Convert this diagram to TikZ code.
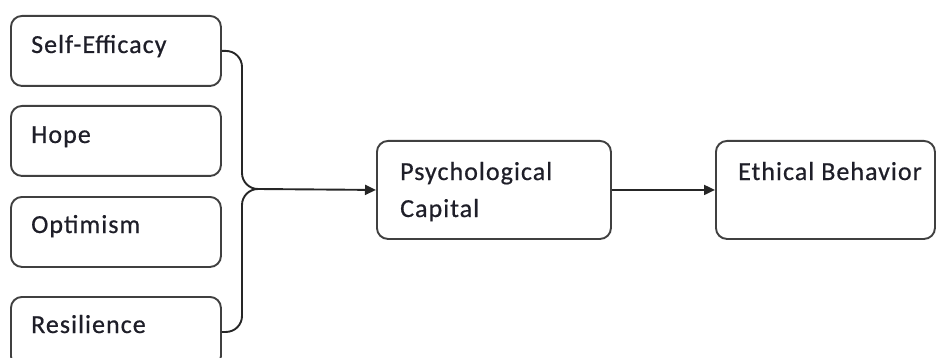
\documentclass[tikz,border=0pt]{standalone}
\usepackage{fontspec}
\setmainfont{Carlito}[LetterSpace=4,FakeBold=0.6]
\usetikzlibrary{arrows.meta,calc}
\definecolor{boxline}{HTML}{404040}
\definecolor{txt}{HTML}{1E1E28}
\begin{document}
\begin{tikzpicture}[x=1pt,y=-1pt,
  box/.style={draw=boxline,line width=1.9pt,rounded corners=11pt,anchor=north west,inner sep=0pt},
  lbl/.style={anchor=base west,inner sep=0pt,text=txt,font=\fontsize{26}{37}\selectfont,align=left},
  conn/.style={draw=black!85,line width=1.9pt},
  arr/.style={conn,-{Triangle[length=11pt,width=10pt]}}]
\useasboundingbox (0,0) rectangle (936,358);
% left boxes
\node[box,minimum width=210pt,minimum height=70pt] (se) at (10,15) {};
\node[box,minimum width=210pt,minimum height=70pt] (ho) at (10,105) {};
\node[box,minimum width=210pt,minimum height=70pt] (op) at (10,196) {};
\node[box,minimum width=210pt,minimum height=70pt] (re) at (10,296) {};
\node[lbl] (tse) at (31,53) {Self-Efficacy};
\node[lbl] (tho) at (31,143) {Hope};
\node[lbl] (top) at (31,233) {Optimism};
\node[lbl] (tre) at (31,333) {Resilience};
% middle and right
\node[box,minimum width=234pt,minimum height=98pt] (pc) at (376,140) {};
\node[lbl] (tpc) at (400,217) {Psychological\\Capital};
\node[box,minimum width=219pt,minimum height=98pt] (eb) at (715,140) {};
\node[lbl] (teb) at (738,180) {Ethical Behavior};
% brace
\coordinate (tip) at (258,189);
\coordinate (spine) at (242,189);
\draw[conn,rounded corners=16pt] (se.east) -| (spine) -- (tip);
\draw[conn,rounded corners=16pt] (re.east) -| (spine) -- (tip);
\draw[arr] (tip) -- (pc.west);
\draw[arr] (pc.east) -- (eb.west);
\end{tikzpicture}
\end{document}
